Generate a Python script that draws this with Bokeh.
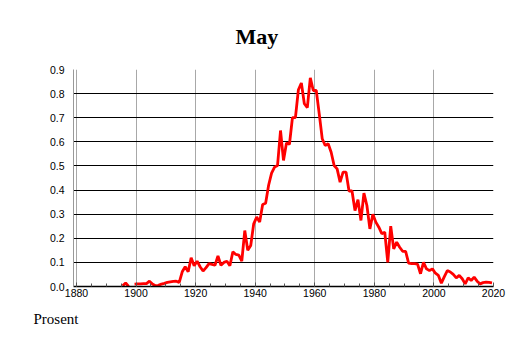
from bokeh.plotting import figure
from bokeh.models import FixedTicker, ColumnDataSource, Range1d, Title, NumeralTickFormatter
from bokeh.embed import file_html
from bokeh.resources import INLINE

nan = float("nan")

title_text = "May"
ylabel_text = "Prosent"

years = list(range(1895, 2020))
values = [
    0.003, 0.015, 0.0, nan, 0.010,                      # 1895-1899
    0.011, 0.011, 0.012, 0.012, 0.022, 0.010, 0.003, 0.005, 0.010, 0.013,  # 1900s
    0.017, 0.019, 0.021, 0.022, 0.017, 0.061, 0.082, 0.061, 0.119, 0.086,  # 1910s
    0.105, 0.082, 0.064, 0.078, 0.095, 0.092, 0.088, 0.127, 0.088, 0.100,  # 1920s
    0.105, 0.086, 0.144, 0.133, 0.130, 0.105, 0.232, 0.150, 0.170, 0.260,  # 1930s
    0.288, 0.267, 0.340, 0.345, 0.420, 0.470, 0.495, 0.502, 0.647, 0.523,  # 1940s
    0.595, 0.590, 0.700, 0.700, 0.816, 0.844, 0.758, 0.742, 0.865, 0.813,  # 1950s
    0.813, 0.716, 0.613, 0.585, 0.592, 0.557, 0.502, 0.488, 0.433, 0.474,  # 1960s
    0.474, 0.396, 0.396, 0.315, 0.360, 0.274, 0.387, 0.336, 0.239, 0.300,  # 1970s
    0.267, 0.246, 0.219, 0.225, 0.100, 0.250, 0.156, 0.184, 0.163, 0.146,  # 1980s
    0.146, 0.097, 0.095, 0.095, 0.093, 0.053, 0.100, 0.073, 0.066, 0.073,  # 1990s
    0.055, 0.046, 0.014, 0.041, 0.066, 0.060, 0.050, 0.036, 0.046, 0.032,  # 2000s
    0.011, 0.036, 0.025, 0.039, 0.022, 0.011, 0.016, 0.018, 0.017, 0.015,  # 2010s
]

x_major_ticks = [1880, 1900, 1920, 1940, 1960, 1980, 2000, 2020]
x_minor_ticks = list(range(1880, 2021, 5))
y_ticks = [0.0, 0.1, 0.2, 0.3, 0.4, 0.5, 0.6, 0.7, 0.8, 0.9]

# points sit at the middle of each year
src = ColumnDataSource(data=dict(x=[y + 0.5 for y in years], v=values))

p = figure(width=506, height=341, output_backend="svg", toolbar_location=None,
           x_range=Range1d(1879, 2020), y_range=Range1d(0, 0.9),
           min_border_left=73, min_border_right=13, min_border_top=69, min_border_bottom=55)
p.outline_line_color = None
p.background_fill_color = "white"
p.border_fill_color = "white"

p.line("x", "v", source=src, line_color="#ff0000", line_width=2.8)

# x axis
p.xaxis.ticker = FixedTicker(ticks=x_major_ticks, minor_ticks=x_minor_ticks)
p.xaxis.axis_line_color = "black"
p.xaxis.axis_line_width = 1.5
p.xaxis.major_tick_in = 4
p.xaxis.major_tick_out = 0
p.xaxis.minor_tick_in = 3
p.xaxis.minor_tick_out = 0
p.xaxis.major_tick_line_color = "#555555"
p.xaxis.minor_tick_line_color = "#555555"
p.xaxis.major_label_standoff = 2
p.xaxis.major_label_text_font = "Liberation Sans"
p.xaxis.major_label_text_font_size = "10.5px"
p.xaxis.major_label_text_color = "black"

# y axis
p.yaxis.ticker = FixedTicker(ticks=y_ticks)
p.yaxis.formatter = NumeralTickFormatter(format="0.0")
p.yaxis.axis_line_color = "#999999"
p.yaxis.major_tick_in = 0
p.yaxis.major_tick_out = 0
p.yaxis.minor_tick_line_color = None
p.yaxis.major_label_standoff = 9
p.yaxis.major_label_text_font = "Liberation Sans"
p.yaxis.major_label_text_font_size = "10.5px"
p.yaxis.major_label_text_color = "black"

# grids
p.xgrid.ticker = FixedTicker(ticks=x_major_ticks)
p.xgrid.grid_line_color = "#a8a8a8"
p.xgrid.grid_line_width = 1
p.ygrid.ticker = FixedTicker(ticks=y_ticks)
p.ygrid.grid_line_color = "black"
p.ygrid.grid_line_width = 1

# title and unit label
p.title = Title(text=title_text, align="left", offset=162, vertical_align="top",
                text_font="Liberation Serif", text_font_style="bold",
                text_font_size="22px", text_color="black", standoff=38)
unit = Title(text=ylabel_text, align="left", offset=-40,
             text_font="Liberation Serif", text_font_style="normal",
             text_font_size="15px", text_color="black", standoff=18)
p.add_layout(unit, "below")

open("out.html", "w").write(file_html(p, INLINE))
